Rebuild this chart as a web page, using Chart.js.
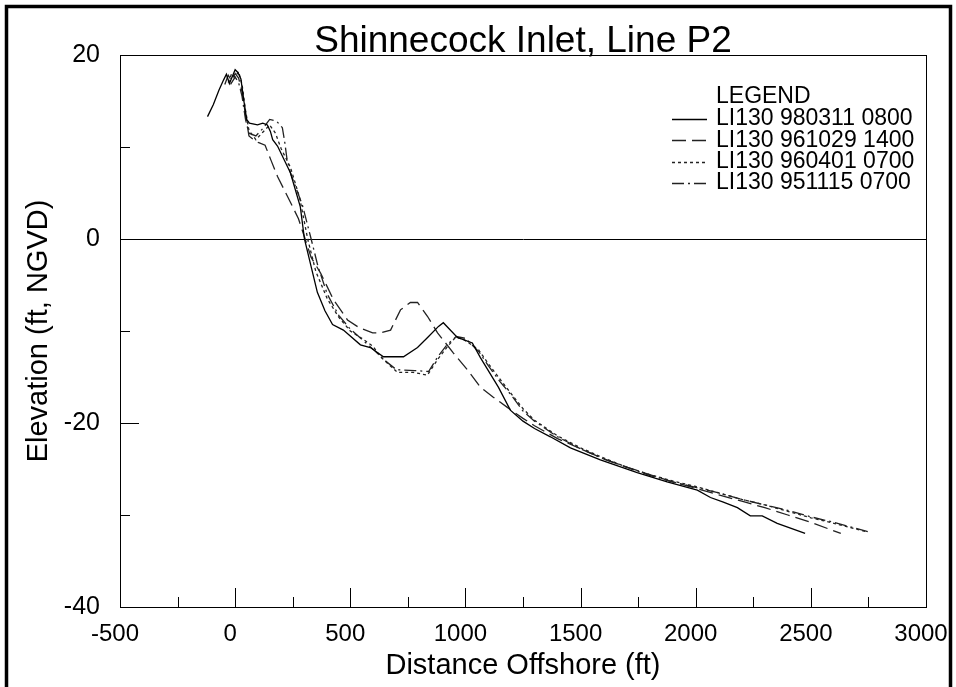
<!DOCTYPE html>
<html>
<head>
<meta charset="utf-8">
<title>Shinnecock Inlet, Line P2</title>
<script src="https://cdn.jsdelivr.net/npm/chart.js@4.4.0/dist/chart.umd.min.js"></script>
<style>
  body { margin: 0; background: #fff; }
  #wrap { width: 956px; height: 687px; }
</style>
</head>
<body>
<div id="wrap"><canvas id="profileChart" width="956" height="687"></canvas></div>
<script>
// survey names, as in the legend
const surveyLabels = ['LI130 980311 0800', 'LI130 961029 1400', 'LI130 960401 0700', 'LI130 951115 0700'];

// distance offshore (ft) and elevation (ft, NGVD)
const dist980311 = [-120, -95, -70, -50, -38, -25, -10, 0, 12, 25, 38, 50, 62, 97, 120, 140, 153, 163, 184, 240, 283, 301, 330, 357, 390, 423, 470, 544, 587, 644, 731, 792, 840, 883, 904, 965, 1030, 1065, 1143, 1195, 1250, 1300, 1369, 1456, 1586, 1746, 1876, 2007, 2064, 2120, 2181, 2237, 2289, 2354, 2475];
const elev980311 = [13.3, 14.6, 16.2, 17.3, 17.9, 16.9, 17.8, 18.4, 18.1, 17.4, 15.0, 13.0, 12.6, 12.4, 12.6, 12.4, 11.7, 10.8, 10.1, 7.2, 3.5, 0, -3.0, -5.8, -7.8, -9.3, -9.9, -11.5, -11.8, -12.8, -12.8, -11.8, -10.6, -9.5, -9.1, -10.7, -11.3, -12.9, -16.1, -18.6, -19.8, -20.6, -21.5, -22.7, -24.0, -25.4, -26.4, -27.3, -28.1, -28.6, -29.2, -30.1, -30.1, -30.9, -32.0];

const dist961029 = [-45, -30, -15, 0, 15, 30, 45, 60, 80, 100, 130, 155, 184, 210, 240, 275, 300, 330, 371, 427, 488, 536, 597, 631, 675, 718, 761, 792, 835, 879, 948, 1008, 1065, 1121, 1182, 1250, 1300, 1400, 1500, 1600, 1700, 1800, 1900, 2000, 2100, 2200, 2300, 2400, 2500, 2630];
const elev961029 = [16.8, 17.8, 17.2, 18.0, 17.5, 16.0, 13.5, 11.2, 10.8, 10.5, 10.2, 8.6, 6.8, 5.5, 4.0, 2.2, 0.3, -2.0, -3.7, -6.6, -8.8, -9.6, -10.2, -10.2, -9.9, -7.7, -6.9, -6.9, -8.4, -10.2, -12.4, -14.2, -16.1, -17.2, -18.3, -19.5, -20.3, -21.7, -22.8, -23.9, -24.8, -25.6, -26.4, -27.1, -27.8, -28.5, -29.2, -30.0, -30.8, -32.0];

const dist960401 = [-30, -15, 0, 15, 30, 45, 60, 90, 120, 150, 175, 200, 240, 280, 315, 350, 400, 450, 500, 550, 600, 631, 705, 774, 835, 879, 922, 957, 991, 1056, 1095, 1152, 1195, 1252, 1300, 1400, 1500, 1600, 1700, 1800, 1900, 2000, 2100, 2200, 2300, 2400, 2500, 2600, 2740];
const elev960401 = [17.0, 18.0, 17.6, 18.2, 16.8, 14.0, 11.8, 10.8, 11.6, 12.4, 11.5, 9.8, 7.8, 4.5, 0, -3.5, -6.5, -8.5, -10.0, -10.8, -11.7, -12.8, -14.5, -14.5, -14.8, -13.1, -11.7, -10.7, -10.9, -12.0, -13.4, -15.3, -16.7, -18.5, -19.7, -21.4, -22.7, -23.8, -24.8, -25.6, -26.3, -26.9, -27.6, -28.3, -28.9, -29.6, -30.3, -30.9, -31.8];

const dist951115 = [-20, 0, 15, 30, 45, 60, 90, 120, 150, 180, 205, 215, 225, 240, 262, 293, 327, 360, 400, 450, 500, 550, 600, 650, 700, 780, 840, 880, 920, 960, 1000, 1060, 1100, 1150, 1200, 1250, 1300, 1400, 1500, 1600, 1700, 1800, 1900, 2000, 2100, 2200, 2300, 2400, 2500, 2600, 2760];
const elev951115 = [16.8, 17.6, 17.0, 15.5, 13.0, 11.5, 11.2, 12.0, 13.0, 12.8, 12.1, 10.6, 8.7, 7.2, 5.7, 3.6, 0.3, -3.0, -6.0, -8.3, -9.8, -10.9, -12.0, -13.2, -14.2, -14.3, -14.4, -12.8, -11.5, -10.6, -10.8, -12.3, -13.8, -15.5, -17.0, -18.7, -19.8, -21.5, -22.8, -23.9, -24.8, -25.7, -26.4, -27.0, -27.6, -28.3, -28.9, -29.5, -30.2, -30.8, -31.9];

// axis ticks
const xTickValues = [-500, 0, 500, 1000, 1500, 2000, 2500, 3000];
const xMarkValues = [-250, 0, 250, 500, 750, 1000, 1250, 1500, 1750, 2000, 2250, 2500, 2750];
const yTickValues = [-40, -20, 0, 20];
const yMarkValues = [10, -10, -20, -30];

const chartTitle = 'Shinnecock Inlet, Line P2';
const legendTitle = 'LEGEND';

const toPoints = (xs, ys) => xs.map((x, i) => ({ x: x, y: ys[i] }));

const lineStyles = [
    { dash: [], color: '#000' },
    { dash: [14, 6], color: '#222' },
    { dash: [3, 3], color: '#222' },
    { dash: [12, 4, 2, 4], color: '#222' }
];

const seriesData = [
    toPoints(dist980311, elev980311),
    toPoints(dist961029, elev961029),
    toPoints(dist960401, elev960401),
    toPoints(dist951115, elev951115)
];

const FONT = '"Liberation Sans", Arial, Helvetica, sans-serif';
Chart.defaults.font.family = FONT;
Chart.defaults.color = '#000';

// frame, inward ticks, outer border, title and legend
const decorPlugin = {
    id: 'decor',
    afterDraw(chart) {
        const ctx = chart.ctx;
        const area = chart.chartArea;
        const xs = chart.scales.x;
        const ys = chart.scales.y;
        ctx.save();
        ctx.strokeStyle = '#000';
        ctx.lineWidth = 1;
        ctx.strokeRect(Math.round(area.left) + 0.5, Math.round(area.top) + 0.5,
            Math.round(area.right - area.left), Math.round(area.bottom - area.top));

        ctx.beginPath();
        xMarkValues.forEach(v => {
            const px = Math.round(xs.getPixelForValue(v)) + 0.5;
            const len = v % 500 === 0 ? 19 : 10;
            ctx.moveTo(px, area.bottom);
            ctx.lineTo(px, area.bottom - len);
        });
        yMarkValues.forEach(v => {
            const py = Math.round(ys.getPixelForValue(v)) + 0.5;
            const len = v % 20 === 0 ? 19 : 10;
            ctx.moveTo(area.left, py);
            ctx.lineTo(area.left + len, py);
        });
        ctx.stroke();

        // outer figure border
        ctx.lineWidth = 3.5;
        ctx.strokeRect(6.5, 6.5, 944, 720);

        // title
        ctx.fillStyle = '#000';
        ctx.font = '37px ' + FONT;
        ctx.textAlign = 'center';
        ctx.textBaseline = 'alphabetic';
        ctx.fillText(chartTitle, (area.left + area.right) / 2, 52);

        // legend
        ctx.font = '23px ' + FONT;
        ctx.textAlign = 'left';
        ctx.textBaseline = 'middle';
        ctx.fillText(legendTitle, 716, 97);
        chart.data.datasets.forEach((ds, i) => {
            const y = 119 + i * 21.3;
            ctx.save();
            ctx.strokeStyle = ds.borderColor;
            ctx.lineWidth = ds.borderWidth;
            ctx.setLineDash(ds.borderDash);
            ctx.beginPath();
            ctx.moveTo(672, Math.round(y) + 0.5);
            ctx.lineTo(707, Math.round(y) + 0.5);
            ctx.stroke();
            ctx.restore();
            ctx.fillText(ds.label, 716, y);
        });
        ctx.restore();
    }
};

const ctx = document.getElementById('profileChart').getContext('2d');
const profileChart = new Chart(ctx, {
    type: 'line',
    data: {
        datasets: surveyLabels.map((label, i) => ({
            label: label,
            data: seriesData[i],
            borderColor: lineStyles[i].color,
            borderDash: lineStyles[i].dash,
            borderWidth: 1.3,
            pointRadius: 0,
            tension: 0,
            fill: false
        }))
    },
    options: {
        responsive: false,
        animation: false,
        devicePixelRatio: 1,
        layout: {
            padding: { top: 55, right: 30, bottom: 0, left: 0 }
        },
        plugins: {
            legend: { display: false },
            title: { display: false },
            tooltip: { enabled: false }
        },
        scales: {
            x: {
                type: 'linear',
                min: -500,
                max: 3000,
                afterBuildTicks: scale => {
                    scale.ticks = xTickValues.map(v => ({ value: v }));
                },
                afterFit: scale => {
                    scale.height = 80;
                    scale.paddingLeft = 0;
                    scale.paddingRight = 0;
                },
                grid: { display: false, drawTicks: false },
                border: { display: true, color: '#000', width: 1 },
                ticks: {
                    font: { size: 24 },
                    padding: 13,
                    labelOffset: -5,
                    maxRotation: 0,
                    autoSkip: false,
                    callback: v => String(v)
                },
                title: {
                    display: true,
                    text: 'Distance Offshore (ft)',
                    font: { size: 29 },
                    padding: { top: 0, bottom: 4 }
                }
            },
            y: {
                min: -40,
                max: 20,
                afterBuildTicks: scale => {
                    scale.ticks = yTickValues.map(v => ({ value: v }));
                },
                afterFit: scale => {
                    scale.width = 120;
                    scale.paddingTop = 0;
                    scale.paddingBottom = 0;
                },
                grid: {
                    drawTicks: false,
                    lineWidth: 1,
                    color: c => (c.tick && c.tick.value === 0 ? '#000' : 'rgba(0,0,0,0)')
                },
                border: { display: true, color: '#000', width: 1 },
                ticks: {
                    font: { size: 25 },
                    padding: 20,
                    callback: v => String(v)
                },
                title: {
                    display: true,
                    text: 'Elevation (ft, NGVD)',
                    font: { size: 29 },
                    padding: { top: 22, bottom: 0 }
                }
            }
        }
    },
    plugins: [decorPlugin]
});
</script>
</body>
</html>
